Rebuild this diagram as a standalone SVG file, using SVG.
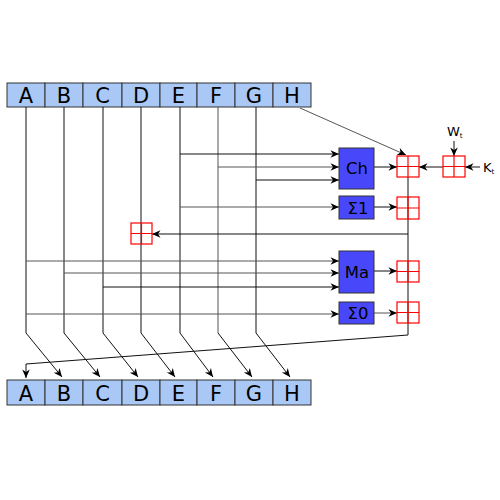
<svg xmlns="http://www.w3.org/2000/svg" width="500" height="500" viewBox="0 0 500 500">
<defs>
<style>
.reg{fill:#a9c8f6;stroke:#333;stroke-width:1}
.op{fill:#4848fa;stroke:#333;stroke-width:1}
.add{fill:none;stroke:#f00;stroke-width:1.2}
.ln{fill:none;stroke:#111;stroke-width:1}
.lg{fill:none;stroke:#555;stroke-width:1}
.rt{font-family:"DejaVu Sans",sans-serif;font-size:21px;text-anchor:middle;fill:#000}
.ot{font-family:"DejaVu Sans",sans-serif;font-size:16.5px;text-anchor:middle;fill:#000}
.st{font-family:"DejaVu Sans",sans-serif;font-size:13px;fill:#000}
</style>
<marker id="ar" viewBox="-9 -5 10 10" refX="0" refY="0" markerWidth="10" markerHeight="10" markerUnits="userSpaceOnUse" orient="auto">
<path d="M0,0 L-8.5,-3.8 L-6,0 L-8.5,3.8 z" fill="#000"/>
</marker>
</defs>
<g id="top-registers">
<rect class="reg" x="7" y="83" width="38" height="24"/><text class="rt" x="26" y="102.5">A</text>
<rect class="reg" x="45" y="83" width="38" height="24"/><text class="rt" x="64" y="102.5">B</text>
<rect class="reg" x="83" y="83" width="39" height="24"/><text class="rt" x="102.5" y="102.5">C</text>
<rect class="reg" x="122" y="83" width="38" height="24"/><text class="rt" x="141" y="102.5">D</text>
<rect class="reg" x="160" y="83" width="37" height="24"/><text class="rt" x="178.5" y="102.5">E</text>
<rect class="reg" x="197" y="83" width="38" height="24"/><text class="rt" x="216" y="102.5">F</text>
<rect class="reg" x="235" y="83" width="38" height="24"/><text class="rt" x="254" y="102.5">G</text>
<rect class="reg" x="273" y="83" width="38" height="24"/><text class="rt" x="292" y="102.5">H</text>
</g>
<g id="connectors">
<path class="ln" d="M26,107 V333 L62,377" marker-end="url(#ar)"/>
<path class="ln" d="M64,107 V333 L100,377" marker-end="url(#ar)"/>
<path class="ln" d="M103,107 V333 L138,377" marker-end="url(#ar)"/>
<path class="ln" d="M141,107 V333 L175,377" marker-end="url(#ar)"/>
<path class="ln" d="M180,107 V333 L213,377" marker-end="url(#ar)"/>
<path class="lg" d="M218,107 V333"/><path class="ln" d="M218,333 L252,377" marker-end="url(#ar)"/>
<path class="ln" d="M256,107 V333 L290,377" marker-end="url(#ar)"/>
<path class="lg" d="M300,108 L406,155" marker-end="url(#ar)"/>
<path class="ln" d="M180,154 H339" marker-end="url(#ar)"/>
<path class="lg" d="M218,167 H339" marker-end="url(#ar)"/>
<path class="ln" d="M256,180 H339" marker-end="url(#ar)"/>
<path class="ln" d="M374,167 H397" marker-end="url(#ar)"/>
<path class="ln" d="M443,167 H419" marker-end="url(#ar)"/>
<path class="ln" d="M454,141 V156" marker-end="url(#ar)"/>
<path class="ln" d="M480,167 H465" marker-end="url(#ar)"/>
<path class="lg" d="M180,207 H339" marker-end="url(#ar)"/>
<path class="ln" d="M374,207 H397" marker-end="url(#ar)"/>
<path class="ln" d="M408,177 V335 L26,364 V378" marker-end="url(#ar)"/>
<path class="ln" d="M408,234 H152" marker-end="url(#ar)"/>
<path class="lg" d="M26,261 H339" marker-end="url(#ar)"/>
<path class="lg" d="M64,273 H339" marker-end="url(#ar)"/>
<path class="ln" d="M103,287 H339" marker-end="url(#ar)"/>
<path class="ln" d="M374,271 H397" marker-end="url(#ar)"/>
<path class="lg" d="M26,314 H339" marker-end="url(#ar)"/>
<path class="lg" d="M374,313 H397" marker-end="url(#ar)"/>
</g>
<g id="Ch"><rect class="op" x="339" y="148" width="35" height="41"/><text class="ot" x="357" y="174">Ch</text></g>
<g id="Sigma1"><rect class="op" x="339" y="196" width="35" height="23"/><text class="ot" x="358" y="213.5">Σ1</text></g>
<g id="Ma"><rect class="op" x="339" y="251" width="35" height="42"/><text class="ot" x="357" y="278">Ma</text></g>
<g id="Sigma0"><rect class="op" x="339" y="302" width="35" height="22"/><text class="ot" x="358" y="319">Σ0</text></g>
<g id="add-ch"><rect class="add" x="397" y="156" width="22" height="21"/><path class="add" d="M408,156 V177 M397,166.5 H419"/></g>
<g id="add-s1"><rect class="add" x="397" y="197" width="22" height="22"/><path class="add" d="M408,197 V219 M397,208 H419"/></g>
<g id="add-d"><rect class="add" x="131" y="223" width="21" height="21"/><path class="add" d="M141.5,223 V244 M131,233.5 H152"/></g>
<g id="add-ma"><rect class="add" x="397" y="261" width="22" height="21"/><path class="add" d="M408,261 V282 M397,271.5 H419"/></g>
<g id="add-s0"><rect class="add" x="397" y="302" width="22" height="21"/><path class="add" d="M408,302 V323 M397,312.5 H419"/></g>
<g id="add-wk"><rect class="add" x="443" y="156" width="22" height="21"/><path class="add" d="M454,156 V177 M443,166.5 H465"/></g>
<g id="Wt"><text class="st" x="447" y="136">W<tspan font-size="7" dy="2">t</tspan></text></g>
<g id="Kt"><text class="st" x="483" y="172">K<tspan font-size="7" dy="2">t</tspan></text></g>
<g id="bottom-registers">
<rect class="reg" x="7" y="380" width="38" height="25"/><text class="rt" x="26" y="400.5">A</text>
<rect class="reg" x="45" y="380" width="38" height="25"/><text class="rt" x="64" y="400.5">B</text>
<rect class="reg" x="83" y="380" width="39" height="25"/><text class="rt" x="102.5" y="400.5">C</text>
<rect class="reg" x="122" y="380" width="38" height="25"/><text class="rt" x="141" y="400.5">D</text>
<rect class="reg" x="160" y="380" width="37" height="25"/><text class="rt" x="178.5" y="400.5">E</text>
<rect class="reg" x="197" y="380" width="38" height="25"/><text class="rt" x="216" y="400.5">F</text>
<rect class="reg" x="235" y="380" width="38" height="25"/><text class="rt" x="254" y="400.5">G</text>
<rect class="reg" x="273" y="380" width="38" height="25"/><text class="rt" x="292" y="400.5">H</text>
</g>
</svg>
